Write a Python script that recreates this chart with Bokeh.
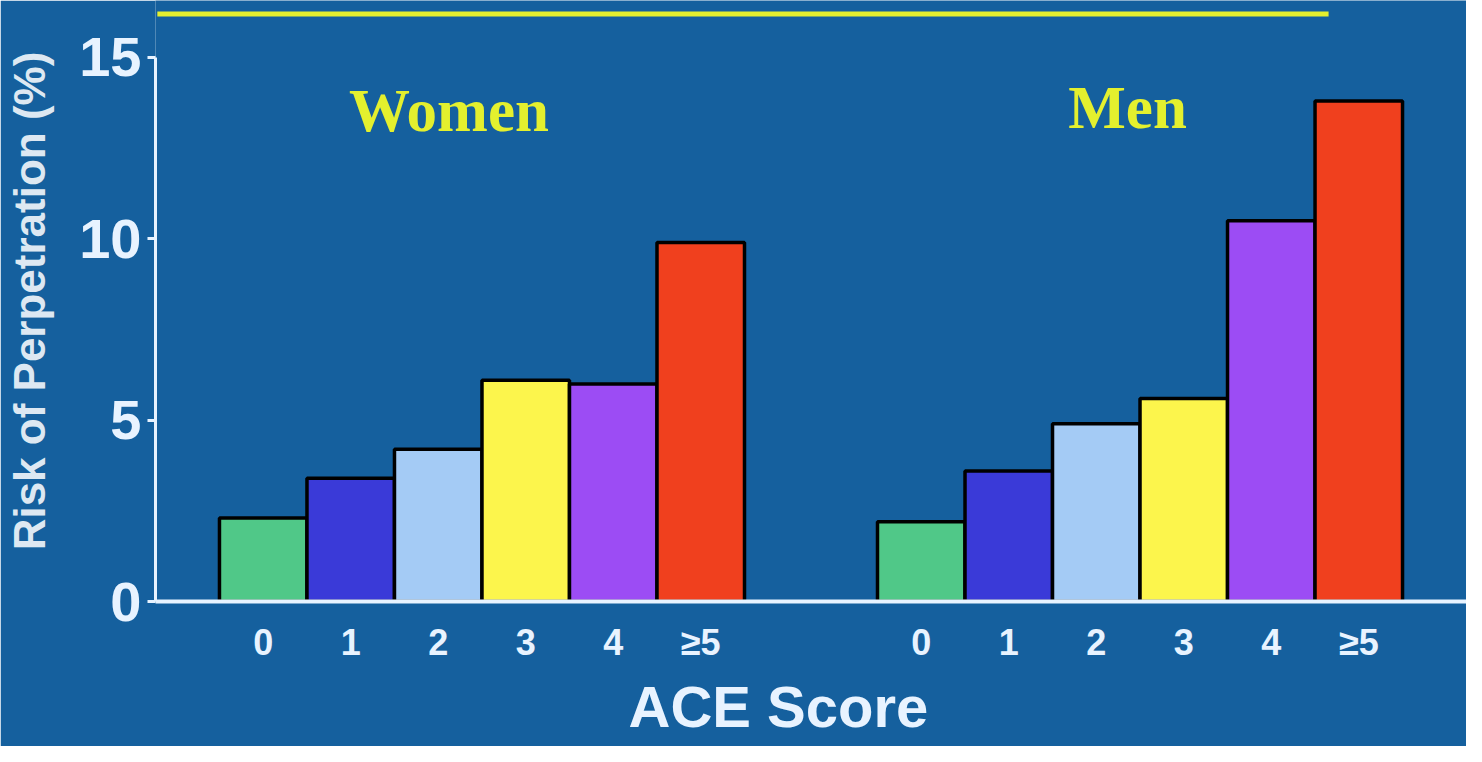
from bokeh.plotting import figure
from bokeh.models import FactorRange, Range1d, FixedTicker, Title, ColumnDataSource
from bokeh.embed import file_html
from bokeh.resources import INLINE
from bokeh.core.properties import value

# ---- data ----
groups = ["Women", "Men"]
scores = ["0", "1", "2", "3", "4", "≥5"]
women_risk = [2.3, 3.4, 4.2, 6.1, 6.0, 9.9]
men_risk = [2.2, 3.6, 4.9, 5.6, 10.5, 13.8]
bar_colors = ["#50c888", "#3a3ad8", "#a4cbf5", "#fcf54c", "#9c4cf4", "#f0401e"]
y_ticks = [0, 5, 10, 15]
y_label = "Risk of Perpetration (%)"
x_label = "ACE Score"

BG = "#15609e"
AXIS = "#e8f3ff"
YELLOW = "#e4f02e"

factors = [(g, s) for g in groups for s in scores]
tops = women_risk + men_risk
colors = bar_colors * len(groups)
src = ColumnDataSource(dict(x=factors, top=tops, color=colors))

x_range = FactorRange(*factors, group_padding=1.52, range_padding=0.731,
                      range_padding_units="absolute")

p = figure(width=1466, height=746, x_range=x_range, y_range=Range1d(0, 16.57),
           output_backend="svg", toolbar_location=None,
           min_border_left=155, min_border_right=0, min_border_top=0,
           min_border_bottom=145)
p.background_fill_color = BG
p.border_fill_color = BG
p.outline_line_color = None
p.xgrid.grid_line_color = None
p.ygrid.grid_line_color = None

p.vbar(x="x", top="top", width=1.0, source=src, fill_color="color",
       line_color="black", line_width=3.5)

# decorative yellow rule at the top
p.segment(x0=[("Women", "0", -1.21)], y0=[16.2], x1=[("Men", "≥5", -0.345)], y1=[16.2],
          line_color=YELLOW, line_width=5)

# group titles
p.text(x=[("Women", "1", -0.02), ("Men", "2", -0.32)], y=[13.53, 13.62], text=groups,
       text_font=value("Liberation Serif"), text_font_style="bold",
       text_font_size="61px", text_color=YELLOW, text_align="left",
       text_baseline="alphabetic")

# y axis
ya = p.yaxis[0]
ya.ticker = FixedTicker(ticks=y_ticks)
ya.bounds = (0, 15)
ya.axis_line_color = AXIS
ya.axis_line_width = 3
ya.major_tick_line_color = AXIS
ya.major_tick_line_width = 3
ya.major_tick_out = 8
ya.major_tick_in = 0
ya.minor_tick_line_color = None
ya.major_label_text_color = AXIS
ya.major_label_text_font = "Liberation Sans"
ya.major_label_text_font_style = "bold"
ya.major_label_text_font_size = "56px"
ya.major_label_standoff = 6
ya.axis_label = y_label
ya.axis_label_text_color = "#dde8f2"
ya.axis_label_text_font = "Liberation Sans"
ya.axis_label_text_font_style = "bold"
ya.axis_label_text_font_size = "44px"
ya.axis_label_standoff = 22

# x axis
xa = p.xaxis[0]
xa.axis_line_color = AXIS
xa.axis_line_width = 4
xa.major_tick_line_color = None
xa.major_tick_out = 0
xa.major_tick_in = 0
xa.minor_tick_line_color = None
xa.major_label_text_color = AXIS
xa.major_label_text_font = "Liberation Sans"
xa.major_label_text_font_style = "bold"
xa.major_label_text_font_size = "36px"
xa.major_label_standoff = 20
xa.group_text_color = None
xa.group_text_font_size = "1px"
xa.separator_line_color = None

p.add_layout(Title(text=x_label, align="left", offset=473,
                   text_font="Liberation Sans", text_font_style="bold",
                   text_font_size="58px", text_color=AXIS, standoff=12), "below")

open("out.html", "w").write(file_html(p, INLINE))
